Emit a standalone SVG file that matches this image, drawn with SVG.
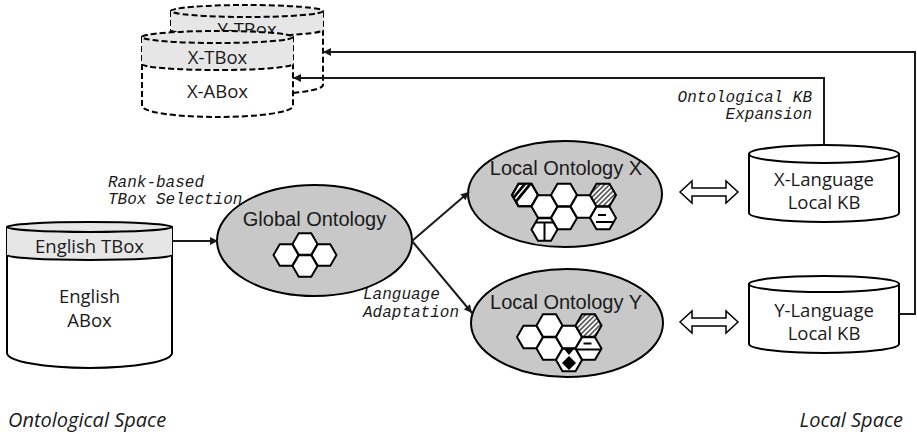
<svg xmlns="http://www.w3.org/2000/svg" width="917" height="434" viewBox="0 0 917 434">
<style>
.cyl{fill:#fff;stroke:#000;stroke-width:2}
.band{fill:#e6e6e6;stroke:none}
.bandline{fill:none;stroke:#000;stroke-width:2}
.dash{stroke-dasharray:6 3}
.top{fill:#e6e6e6;stroke:#000;stroke-width:2}
.onto{fill:#c8c8c8;stroke:#000;stroke-width:2}
.hx{fill:#fff;stroke:#000;stroke-width:2}
.ho{fill:none;stroke:#000;stroke-width:2}
.hh{fill:url(#hatch);stroke:#000;stroke-width:2}
.conn{fill:none;stroke:#1a1a1a;stroke-width:2}
.dbl{fill:#fff;stroke:#000;stroke-width:1.5;stroke-linejoin:miter}
.lbl{font-family:"Open Sans","Noto Sans",sans-serif;font-size:18.5px;fill:#1a1a1a;text-anchor:middle}
.ar{font-family:"Liberation Sans",Arial,sans-serif;font-size:20px;fill:#1a1a1a;text-anchor:middle}
.mono{font-family:"Liberation Mono","Courier New",monospace;font-style:italic;font-size:16px;fill:#1a1a1a}
.space{font-family:"Open Sans","Noto Sans",sans-serif;font-style:italic;font-size:20px;fill:#1a1a1a}
.dec{stroke:#000;fill:none}
</style>
<defs>
<path id="hex" d="M13,0 L6.5,11.26 L-6.5,11.26 L-13,0 L-6.5,-11.26 L6.5,-11.26 Z"/>
<clipPath id="hexclip"><path d="M13,0 L6.5,11.26 L-6.5,11.26 L-13,0 L-6.5,-11.26 L6.5,-11.26 Z"/></clipPath>
<pattern id="hatch" width="3.5" height="3.5" patternUnits="userSpaceOnUse" patternTransform="rotate(45)">
<rect width="3.5" height="3.5" fill="#fff"/>
<rect width="1.5" height="3.5" fill="#444"/>
</pattern>
<marker id="ah" viewBox="0 0 10 10" refX="10" refY="5" markerWidth="9" markerHeight="8" markerUnits="userSpaceOnUse" orient="auto">
<path d="M0,0 L10,5 L0,10 Z" fill="#1a1a1a"/>
</marker>
</defs>

<!-- Y-TBox back dashed cylinder -->
<g id="y-box">
<path class="cyl dash" d="M171,11 L171,85 A76,10 0 0 0 323,85 L323,11 Z"/>
<path class="band" d="M171,11 L171,30 A76,6 0 0 0 323,30 L323,11 Z"/>
<path class="bandline dash" d="M171,30 A76,6 0 0 0 323,30"/>
<ellipse class="top dash" cx="247" cy="11" rx="76" ry="6"/>
<text class="lbl" x="247" y="36">Y-TBox</text>
</g>

<!-- X-TBox / X-ABox front dashed cylinder -->
<g id="x-box">
<path class="cyl dash" d="M142,37 L142,106 A75.5,11 0 0 0 293,106 L293,37 Z"/>
<path class="band" d="M142,37 L142,64 A75.5,6 0 0 0 293,64 L293,37 Z"/>
<path class="bandline dash" d="M142,64 A75.5,6 0 0 0 293,64"/>
<ellipse class="top dash" cx="217.5" cy="37" rx="75.5" ry="6"/>
<text class="lbl" x="217.5" y="64">X-TBox</text>
<text class="lbl" x="217.5" y="98">X-ABox</text>
</g>

<!-- English cylinder -->
<g id="english">
<path class="cyl" d="M7,227 L7,353 A82.5,15 0 0 0 172,353 L172,227 Z"/>
<path class="band" d="M7,227 L7,255 A82.5,5 0 0 0 172,255 L172,227 Z"/>
<path class="bandline" d="M7,255 A82.5,5 0 0 0 172,255"/>
<ellipse class="top" cx="89.5" cy="227" rx="82.5" ry="5"/>
<text class="lbl" x="89.5" y="253">English TBox</text>
<text class="lbl" x="89.5" y="303">English</text>
<text class="lbl" x="89.5" y="327">ABox</text>
</g>

<!-- Global Ontology -->
<g id="global">
<ellipse class="onto" cx="314.5" cy="240.5" rx="97.5" ry="55.5"/>
<text class="ar" x="314.5" y="226">Global Ontology</text>
<use href="#hex" class="hx" transform="translate(286,255) scale(0.96)"/>
<use href="#hex" class="hx" transform="translate(305,244) scale(0.96)"/>
<use href="#hex" class="hx" transform="translate(324,255) scale(0.96)"/>
<use href="#hex" class="hx" transform="translate(305,266) scale(0.96)"/>
</g>

<!-- Local Ontology X -->
<g id="local-x">
<ellipse class="onto" cx="565" cy="194" rx="97" ry="53"/>
<text class="ar" x="566" y="175">Local Ontology X</text>
<use href="#hex" class="hx" x="525" y="195"/>
<g transform="translate(525,195)" clip-path="url(#hexclip)">
<line class="dec" x1="-13" y1="8" x2="5" y2="-14" stroke-width="7"/>
<line x1="-13" y1="8" x2="5" y2="-14" stroke="#fff" stroke-width="1.5"/>
</g>
<use href="#hex" class="ho" x="525" y="195"/>
<use href="#hex" class="hx" x="544.5" y="206.5"/>
<use href="#hex" class="hx" x="564" y="195"/>
<use href="#hex" class="hx" x="564" y="218"/>
<use href="#hex" class="hx" x="583.5" y="206.5"/>
<use href="#hex" class="hh" x="603" y="195"/>
<use href="#hex" class="hx" x="603" y="218"/>
<g transform="translate(603,218)" clip-path="url(#hexclip)">
<line class="dec" x1="-5" y1="-3" x2="3" y2="-3" stroke-width="2"/>
<line class="dec" x1="-7" y1="4" x2="14" y2="4" stroke-width="2"/>
</g>
<use href="#hex" class="hx" x="544.5" y="229.5"/>
<g transform="translate(544.5,229.5)" clip-path="url(#hexclip)">
<line class="dec" x1="-14" y1="-7" x2="14" y2="-7" stroke-width="2"/>
<line class="dec" x1="0" y1="-7" x2="0" y2="12" stroke-width="2"/>
</g>
</g>

<!-- Local Ontology Y -->
<g id="local-y">
<ellipse class="onto" cx="567" cy="323" rx="96" ry="54"/>
<text class="ar" x="566" y="309">Local Ontology Y</text>
<use href="#hex" class="hx" x="530" y="337"/>
<use href="#hex" class="hx" x="549.5" y="325.5"/>
<use href="#hex" class="hx" x="549.5" y="348.5"/>
<use href="#hex" class="hx" x="569" y="337"/>
<use href="#hex" class="hh" x="588.5" y="325.5"/>
<use href="#hex" class="hx" x="588.5" y="348.5"/>
<g transform="translate(588.5,348.5)" clip-path="url(#hexclip)">
<line class="dec" x1="-5" y1="-5" x2="3" y2="-5" stroke-width="2"/>
<line class="dec" x1="-14" y1="1" x2="14" y2="1" stroke-width="2"/>
</g>
<use href="#hex" class="hx" x="569" y="360"/>
<g transform="translate(569,360)" clip-path="url(#hexclip)">
<path d="M-5,-11 L5,-11 L0,-5 Z" fill="#000"/>
<path d="M0,-4 L7,3 L0,10 L-7,3 Z" fill="#000"/>
</g>
</g>

<!-- X-Language Local KB -->
<g id="x-kb">
<path class="cyl" d="M749,154 L749,213 A75,9 0 0 0 899,213 L899,154 Z"/>
<ellipse class="cyl" cx="824" cy="154" rx="75" ry="9"/>
<text class="lbl" x="824" y="186">X-Language</text>
<text class="lbl" x="824" y="209">Local KB</text>
</g>

<!-- Y-Language Local KB -->
<g id="y-kb">
<path class="cyl" d="M749,284 L749,344 A75,9 0 0 0 899,344 L899,284 Z"/>
<ellipse class="cyl" cx="824" cy="284" rx="75" ry="8"/>
<text class="lbl" x="824" y="317">Y-Language</text>
<text class="lbl" x="824" y="340">Local KB</text>
</g>

<!-- connectors -->
<g id="connectors">
<path class="conn" d="M172,241 L218,241" marker-end="url(#ah)"/>
<path class="conn" d="M412,241 L469,192" marker-end="url(#ah)"/>
<path class="conn" d="M412,241 L472,313" marker-end="url(#ah)"/>
<path class="conn" d="M899,314 L915,314 L915,52 L323,52" marker-end="url(#ah)"/>
<path class="conn" d="M824,145 L824,78 L293,78" marker-end="url(#ah)"/>
<path class="dbl" d="M680,192 L692,181 L692,188 L726,188 L726,181 L738,192 L726,203 L726,196 L692,196 L692,203 Z"/>
<path class="dbl" d="M680,322 L692,311 L692,318 L726,318 L726,311 L738,322 L726,333 L726,326 L692,326 L692,333 Z"/>
</g>

<!-- labels -->
<g id="labels">
<text class="mono" x="108" y="187">Rank-based</text>
<text class="mono" x="108" y="204">TBox Selection</text>
<text class="mono" x="363" y="299">Language</text>
<text class="mono" x="363" y="317">Adaptation</text>
<text class="mono" x="812" y="102" text-anchor="end">Ontological KB</text>
<text class="mono" x="812" y="119" text-anchor="end">Expansion</text>
<text class="space" x="8" y="427">Ontological Space</text>
<text class="space" x="903" y="427" text-anchor="end">Local Space</text>
</g>
</svg>
